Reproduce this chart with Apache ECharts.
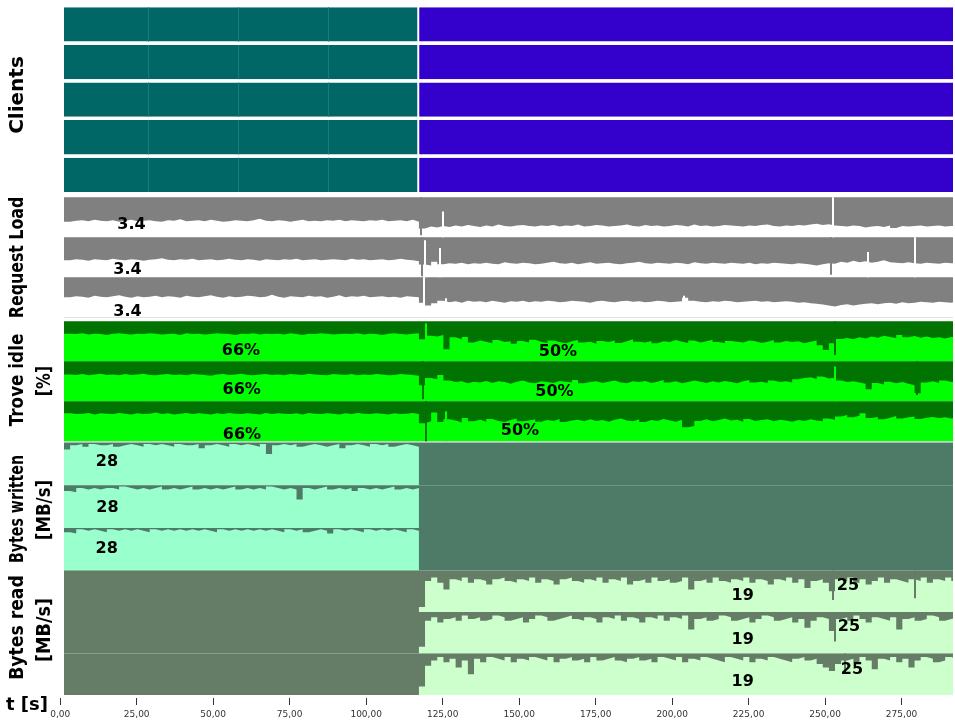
<!DOCTYPE html>
<html><head><meta charset="utf-8">
<script src="https://cdn.jsdelivr.net/npm/echarts@6/dist/echarts.min.js"></script>
<style>html,body{margin:0;padding:0;background:#fff}#chart{width:955px;height:726px}</style>
</head><body><div id="chart"></div>
<script>
// ---------- time frame (seconds) ----------
const T_START = 1.24;      // first sample
const T_SWITCH = 117.24;   // write phase -> read phase
const T_END = 291.8;       // last visible time
const BIN = 2;             // seconds per sample
const xTickValues = [0, 25, 50, 75, 100, 125, 150, 175, 200, 225, 250, 275];

// ---------- Clients (active phase per client) ----------
const clientWritePhase = [1.24, 116.7];
const clientReadPhase = [117.35, 291.8];
const clientCount = 5;
const clientSegmentMarks = [28.7, 58.1, 87.5];

// ---------- Request Load ----------
const req1Pre = [3.2,3.4,3.5,3.3,3.6,3.4,3.3,3.5,3.2,3.4,
3.6,3.3,3.4,3.5,3.3,3.2,3.5,3.4,3.7,3.3,
3.4,3.5,3.3,3.6,3.4,3.2,3.3,3.5,3.4,3.3,
3.5,3.8,3.4,3.3,3.5,3.4,3.2,3.4,3.6,3.3,
3.4,3.3,3.5,3.4,3.6,3.3,3.5,3.4,3.3,3.5,
3.4,3.6,3.3,3.4,3.5,3.3,3.6,3.2];
const req1Post = [1.8,2.2,2.0,2.3,2.1,2.4,2.2,2.5,2.3,2.1,
2.4,2.2,2.6,2.3,2.2,2.4,2.5,2.3,2.2,2.4,
2.3,2.5,2.2,2.4,2.3,2.6,2.2,2.3,2.5,2.4,
2.2,2.3,2.4,2.6,2.3,2.2,2.5,2.3,2.4,2.2,
2.3,2.5,2.4,2.2,2.6,2.3,2.4,2.2,2.3,2.5,
2.4,2.3,2.2,2.4,2.3,2.5,2.6,2.3,2.2,2.4,
2.3,2.5,2.4,2.6,2.8,2.5,2.7,2.4,2.3,2.2,
2.4,2.3,2.0,2.2,2.3,2.1,2.4,1.9,2.3,2.2,
2.3,2.4,2.2,2.3,2.4,2.2,2.3,2.4];
const req2Pre = [3.5,3.7,3.6,3.4,3.7,3.6,3.5,3.8,3.6,3.5,
3.7,3.6,3.4,3.6,3.7,3.9,3.6,3.5,3.7,3.6,
3.8,3.5,3.6,3.7,3.5,3.6,3.8,3.6,3.5,3.7,
3.6,3.4,3.7,3.6,3.5,3.7,3.6,3.8,3.5,3.6,
3.7,3.5,3.6,3.7,3.6,3.5,3.8,3.6,3.7,3.5,
3.6,3.7,3.5,3.6,3.8,3.6,3.5,3.3];
const req2Post = [2.6,2.4,3.2,2.7,2.9,2.8,3.0,2.7,2.9,2.8,
3.0,2.8,2.7,3.1,2.9,2.8,3.0,2.9,2.7,2.8,
3.0,3.2,2.9,2.8,3.0,2.7,2.9,3.1,2.8,2.9,
3.0,2.8,2.7,2.9,3.0,3.2,2.9,2.8,3.0,2.9,
2.8,3.0,2.9,2.7,3.1,2.9,2.8,3.0,2.9,2.8,
3.0,2.9,2.8,3.0,2.7,2.9,2.8,3.0,2.9,2.8,
2.7,2.9,2.8,2.6,2.4,2.7,2.9,2.8,3.2,3.0,
3.4,3.1,3.3,3.0,3.2,3.5,3.1,3.0,2.9,3.1,
2.9,2.8,3.0,2.9,2.8,3.0,2.9,2.8];
const req3Pre = [4.1,4.3,4.2,4.0,4.4,4.2,4.1,4.3,4.5,4.2,
4.0,4.3,4.1,4.2,4.4,4.1,4.3,4.2,4.0,4.4,
4.2,4.1,4.3,4.5,4.2,4.0,4.3,4.1,4.2,4.4,
4.3,4.1,4.2,4.6,4.2,4.0,4.3,4.2,4.1,4.4,
4.2,4.3,4.0,4.2,4.5,4.1,4.3,4.2,4.4,4.1,
4.2,4.3,4.1,4.2,4.0,4.3,4.2,4.1];
const req3Post = [3.0,2.4,2.9,3.4,3.1,3.3,3.0,3.4,3.2,3.3,
3.1,3.4,3.2,3.0,3.3,3.2,3.4,3.1,3.3,3.2,
3.4,3.3,3.1,3.2,3.4,3.3,3.2,3.0,3.3,3.4,
3.2,3.1,3.3,3.4,3.2,3.3,3.1,3.2,3.4,3.3,
3.1,3.2,3.3,4.0,3.4,3.2,3.1,3.3,3.2,3.4,
3.3,3.1,3.2,3.3,3.4,3.2,3.3,3.1,3.2,3.3,
3.2,3.0,3.1,2.9,2.8,2.6,2.4,2.2,2.5,2.7,
2.4,2.6,2.8,2.9,2.7,2.9,3.0,2.8,3.1,2.9,
3.0,3.2,3.1,3.0,3.2,3.1,3.0,3.2];
// short single-sample peaks [t, value]
const req1Up = [[125.1,5.3],[252.4,8.2]];
const req1Down = [[117.9,0.4]];
const req2Up = [[119.1,7.6],[124.0,6.0],[264.0,5.2],[279.4,8.2]];
const req2Down = [[118.2,0.2],[251.9,0.5]];
const req3Up = [[118.9,8.2],[126.1,3.9],[203.9,4.4]];
const req3Down = [];
const reqLabels = ['3.4','3.4','3.4'];

// ---------- Trove idle [%] ----------
const trove1Pre = [69,68,70,67,69,68,66,69,70,68,
67,69,68,70,69,67,68,69,66,70,
68,69,67,68,70,69,68,66,69,68,
70,67,69,68,69,67,70,68,66,69,
68,70,69,67,68,69,68,70,67,69,
68,66,69,70,68,67,69,70];
const trove1Post = [55,64,62,66,30,60,55,61,47,52,
49,45,53,48,50,44,51,47,54,49,
46,52,48,45,50,53,47,49,44,51,
48,52,46,50,55,49,47,51,45,50,
48,53,49,46,52,47,50,54,48,45,
51,49,47,52,50,46,49,53,47,51,
48,50,45,49,52,40,28,45,56,58,
55,60,57,62,59,64,61,58,66,60,
63,59,62,58,60,57,61,59];
const trove2Pre = [67,66,68,65,67,69,66,67,65,68,
66,67,69,66,65,67,68,66,67,65,
68,67,66,64,67,68,66,67,69,66,
65,67,68,66,67,65,68,67,66,69,
67,66,65,68,67,66,68,65,67,66,
68,67,65,66,68,67,66,64];
const trove2Post = [40,58,55,66,52,48,50,45,49,47,
51,46,50,48,44,49,52,47,45,50,
48,46,51,49,47,53,45,48,50,46,
49,52,47,45,50,48,51,46,49,53,
47,50,45,48,52,49,46,50,47,51,
48,45,50,53,47,49,46,52,48,50,
47,55,58,60,56,62,57,59,52,48,
50,47,44,30,46,42,49,45,48,44,
40,20,47,50,46,52,48,51];
const trove3Pre = [70,68,69,71,67,70,69,68,71,69,
67,70,68,69,72,68,70,67,69,71,
68,70,69,67,70,68,71,69,68,70,
69,67,71,68,70,69,68,70,67,71,
69,68,70,69,67,70,68,71,69,68,
70,69,67,70,68,69,71,68];
const trove3Post = [45,50,72,48,55,52,47,58,50,54,
49,56,51,48,53,57,50,52,55,49,
53,51,56,48,52,54,50,55,51,53,
49,54,57,52,50,55,48,53,51,56,
52,49,54,35,38,51,55,50,53,57,
52,54,49,56,51,53,55,50,54,52,
49,53,51,55,52,50,57,54,62,66,
60,64,70,58,61,55,59,63,57,60,
62,56,59,61,58,60,57,59];
const trove1Up = [[119.5,95]];
const trove1Down = [[253.1,16]];
const trove2Up = [[253.0,87]];
const trove2Down = [[118.6,5],[280.0,16]];
const trove3Up = [[126.1,75]];
const trove3Down = [[119.6,0]];
const troveLabelsWrite = ['66%','66%','66%'];
const troveLabelsRead = ['50%','50%','50%'];

// ---------- Bytes written [MB/s] (write phase only) ----------
const written1 = [25,28,29,27,29,28,28,29,27,28,
29,28,27,29,28,29,28,27,29,28,
28,29,26,28,29,28,27,29,28,29,
28,27,29,22,28,29,28,29,27,28,
29,28,27,28,29,26,28,29,28,27,
29,28,29,27,28,29,28,27];
const written2 = [26,25,28,27,28,27,28,28,27,29,
28,27,28,27,28,29,27,28,27,28,
29,27,28,27,28,27,28,29,27,28,
27,28,27,29,28,27,28,27,20,28,
27,28,29,27,28,27,28,26,28,27,
28,27,28,29,27,28,27,28];
const written3 = [27,26,29,28,29,28,27,29,28,29,
28,29,28,27,29,28,29,28,29,28,
29,28,29,28,27,29,28,29,28,29,
28,29,28,29,28,27,29,28,29,27,
28,29,28,26,29,28,29,28,27,29,
28,29,28,29,28,27,29,28];
const writtenLabels = ['28','28','28'];

// ---------- Bytes read [MB/s] (read phase only) ----------
const read1 = [3,18,20,17,13,19,18,20,17,19,
18,16,19,20,18,17,19,18,20,17,
19,18,16,19,20,18,17,19,18,20,
17,19,18,20,16,18,19,17,20,18,
19,17,18,20,13,18,19,17,20,18,
17,19,18,20,17,19,18,16,19,18,
20,17,19,14,18,19,17,12,19,18,
20,17,19,16,18,20,17,19,18,17,
19,18,20,17,19,18,20,18];
const read2 = [4,19,21,18,20,21,19,22,20,21,
19,20,22,21,19,20,21,18,20,22,
21,19,20,21,22,20,19,21,20,18,
21,20,22,19,21,20,18,21,20,22,
19,21,20,22,14,20,21,19,20,22,
21,19,20,21,18,20,22,21,19,20,
21,18,20,15,19,21,20,13,20,21,
19,22,20,18,21,20,19,21,14,20,
21,19,20,22,21,19,20,21];
const read3 = [5,17,20,22,19,21,16,20,12,21,
19,22,21,20,22,19,21,20,22,21,
20,22,19,21,22,20,21,19,22,20,
21,22,20,19,21,22,20,21,19,22,
21,20,22,19,21,20,22,21,20,19,
22,21,20,22,19,21,20,22,21,20,
19,21,22,20,21,18,16,14,18,20,
21,19,22,20,15,21,20,22,19,21,
16,20,22,21,19,20,22,21];
const read1Down = [[252.6,7],[279.4,8]];
const read2Down = [[253.2,7]];
const read3Down = [[256.5,12.8]];
const readLabelsMean = ['19','19','19'];
const readLabelsPeak = ['25','25','25'];

// ---------- build ----------
const GRID_LEFT = 64, GRID_W = 889;
const grids = [], xAxes = [], yAxes = [], series = [];

function addGrid(top, height, bg, yMax, minT, maxT, left, width) {
  const i = grids.length;
  grids.push({left: left ?? GRID_LEFT, top: top, width: width ?? GRID_W, height: height,
    show: !!bg, backgroundColor: bg || 'transparent', borderWidth: 0});
  xAxes.push({type: 'value', gridIndex: i, min: minT ?? T_START, max: maxT ?? T_END, show: false});
  yAxes.push({type: 'value', gridIndex: i, min: 0, max: yMax, show: false});
  return i;
}

// each sample holds its value for one bin: emit the bin's start and end
function stepPoints(pre, post) {
  const pts = [];
  const push = (t0, v) => { pts.push([t0, v]); pts.push([t0 + BIN, v]); };
  if (pre) pre.forEach((v, k) => push(T_START + k * BIN, v));
  if (post) post.forEach((v, k) => push(T_SWITCH + k * BIN, v));
  return pts;
}

function spikeMarks(up, down, fg, bg, yMax) {
  const d = [];
  (up || []).forEach(([t, v]) => d.push([{coord: [t, 0], lineStyle: {color: fg}}, {coord: [t, v]}]));
  (down || []).forEach(([t, v]) => d.push([{coord: [t, v], lineStyle: {color: bg}}, {coord: [t, yMax]}]));
  return {silent: true, symbol: ['none', 'none'], label: {show: false}, animation: false,
    lineStyle: {width: 2, type: 'solid', opacity: 1}, emphasis: {disabled: true}, data: d};
}

function addArea(gi, pts, fg, marks) {
  series.push({type: 'line', xAxisIndex: gi, yAxisIndex: gi, data: pts,
    showSymbol: false, symbol: 'none', silent: true, sampling: null, smooth: false,
    lineStyle: {width: 0, opacity: 0},
    areaStyle: {color: fg, opacity: 1}, markLine: marks, animation: false, z: 2});
}

// Clients
for (let c = 0; c < clientCount; c++) {
  const gi = addGrid(7.3 + c * 37.6, 34.3, null, 1);
  const seams = {silent: true, symbol: ['none', 'none'], label: {show: false}, animation: false,
    lineStyle: {width: 1, type: 'solid', color: '#1a7d7d', opacity: 1}, emphasis: {disabled: true},
    data: clientSegmentMarks.map(t => ({xAxis: t}))};
  addArea(gi, [[clientWritePhase[0], 1], [clientWritePhase[1], 1]], '#006666', seams);
  addArea(gi, [[clientReadPhase[0], 1], [clientReadPhase[1], 1]], '#3300cc');
}

// Request load
const REQ_MAX = 8.2;
[[req1Pre, req1Post, req1Up, req1Down], [req2Pre, req2Post, req2Up, req2Down], [req3Pre, req3Post, req3Up, req3Down]]
  .forEach(([pre, post, up, down], r) => {
    const gi = addGrid(197.3 + r * 40, 40, '#808080', REQ_MAX);
    addArea(gi, stepPoints(pre, post), '#ffffff', spikeMarks(up, down, '#ffffff', '#808080', REQ_MAX));
  });

// Trove idle
[[trove1Pre, trove1Post, trove1Up, trove1Down], [trove2Pre, trove2Post, trove2Up, trove2Down], [trove3Pre, trove3Post, trove3Up, trove3Down]]
  .forEach(([pre, post, up, down], r) => {
    const gi = addGrid(321.3 + r * 40, 40, '#007300', 100);
    addArea(gi, stepPoints(pre, post), '#00ff00', spikeMarks(up, down, '#00ff00', '#007300', 100));
  });

// Bytes written
const WR_MAX = 30;
[written1, written2, written3].forEach((w, r) => {
  const gi = addGrid(442.5 + r * 42.7, 42.7, '#4e7b67', WR_MAX);
  addArea(gi, stepPoints(w, null), '#99ffcc');
});

// Bytes read
const RD_MAX = 24;
[[read1, read1Down], [read2, read2Down], [read3, read3Down]].forEach(([rd, down], r) => {
  const gi = addGrid(570.6 + r * 41.5, 41.5, '#657d67', RD_MAX);
  addArea(gi, stepPoints(null, rd), '#ccffcc', spikeMarks(null, down, '#ccffcc', '#657d67', RD_MAX));
});

// Time axis (same scale as the panels, starting at t = 0)
const pxPerSec = GRID_W / (T_END - T_START);
const axisLeft = GRID_LEFT - T_START * pxPerSec;
const ai = addGrid(690, 8, null, 1, 0, T_END, axisLeft, T_END * pxPerSec);
xAxes[ai] = {type: 'value', gridIndex: ai, min: 0, max: T_END, position: 'bottom',
  axisLine: {show: false}, splitLine: {show: false},
  axisTick: {show: true, length: 7, customValues: xTickValues, lineStyle: {color: '#333', width: 1}},
  axisLabel: {show: true, margin: 12, fontSize: 9, fontFamily: 'DejaVu Sans', color: '#333',
    customValues: xTickValues,
    formatter: v => v.toFixed(2).replace('.', ',')}};

// ---------- texts ----------
const BOLD = '"DejaVu Sans"';
function title(text, x, y, sx) {
  return {type: 'text', x: x, y: y, rotation: Math.PI / 2, scaleX: sx, scaleY: 1, z: 10,
    style: {text: text, fontSize: 20, fontWeight: 'bold', fontFamily: BOLD, fill: '#000',
      align: 'center', verticalAlign: 'middle'}};
}
function note(text, x, y) {
  return {type: 'text', x: x, y: y, z: 10,
    style: {text: text, fontSize: 16, fontWeight: 'bold', fontFamily: BOLD, fill: '#000',
      align: 'center', verticalAlign: 'middle'}};
}
const graphics = [
  title('Clients', 18, 95, 1.0),
  title('Request Load', 18, 257.5, 0.79),
  title('Trove idle', 18, 380, 0.84),
  title('[%]', 45, 381, 0.79),
  title('Bytes written', 18, 509, 0.71),
  title('[MB/s]', 45, 510, 0.83),
  title('Bytes read', 18, 627.5, 0.86),
  title('[MB/s]', 45, 630, 0.88),
  {type: 'text', x: 27, y: 705, z: 10, style: {text: 't [s]', fontSize: 18, fontWeight: 'bold',
    fontFamily: BOLD, fill: '#000', align: 'center', verticalAlign: 'middle'}},
  note(reqLabels[0], 131.5, 225), note(reqLabels[1], 127.5, 270), note(reqLabels[2], 127.5, 311.7),
  note(troveLabelsWrite[0], 241, 351.3), note(troveLabelsWrite[1], 241.7, 389.7), note(troveLabelsWrite[2], 242, 434.7),
  note(troveLabelsRead[0], 558, 352), note(troveLabelsRead[1], 554.5, 392), note(troveLabelsRead[2], 520, 431.3),
  note(writtenLabels[0], 107, 461.7), note(writtenLabels[1], 107.5, 508.3), note(writtenLabels[2], 106.7, 549.3),
  note(readLabelsMean[0], 742.7, 595.7), note(readLabelsMean[1], 742.7, 640), note(readLabelsMean[2], 742.7, 681.7),
  note(readLabelsPeak[0], 848, 586), note(readLabelsPeak[1], 849, 626.7), note(readLabelsPeak[2], 852, 670)
];

const chart = echarts.init(document.getElementById('chart'), null, {renderer: 'canvas'});
chart.setOption({
  animation: false,
  backgroundColor: '#ffffff',
  grid: grids, xAxis: xAxes, yAxis: yAxes, series: series,
  graphic: graphics
});
</script></body></html>
